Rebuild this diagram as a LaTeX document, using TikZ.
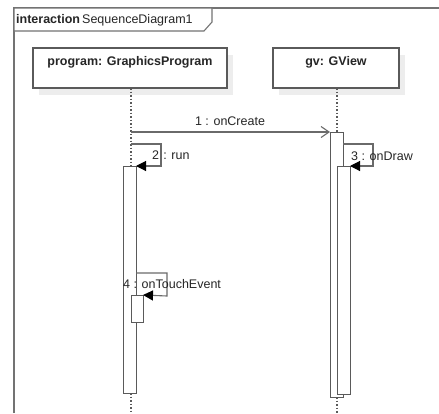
\documentclass[tikz,border=0pt]{standalone}
\usepackage{fontspec}
\setmainfont{Liberation Sans}
\usetikzlibrary{arrows.meta}
\definecolor{lineg}{HTML}{5A5A5A}
\definecolor{msgg}{HTML}{6A6A6A}
\definecolor{shadowg}{HTML}{EDEDED}
\begin{document}
\begin{tikzpicture}[x=1pt,y=-1pt,
  lifebox/.style={draw=lineg,line width=1.1pt,fill=white,inner sep=0pt,outer sep=0pt,anchor=north west},
  shadowbox/.style={fill=shadowg,draw=none,inner sep=0pt,outer sep=0pt,anchor=north west},
  actbox/.style={draw=lineg,line width=1pt,fill=white,inner sep=0pt,outer sep=0pt,anchor=north west,minimum width=13pt},
  lifeline/.style={draw=lineg,line width=1.2pt,dash pattern=on 1.5pt off 2pt},
  msg/.style={draw=msgg,line width=1.1pt},
  callarrow/.style={msg,-{Triangle[length=10pt,width=10pt,color=black]}},
  openarrow/.style={msg,-{Straight Barb[length=8pt,width=11pt,line width=1.1pt]}},
  lbl/.style={font=\fontsize{12.5}{14}\selectfont,text=black!85,inner sep=0pt},
  hdr/.style={font=\fontsize{12.5}{14}\selectfont\bfseries,text=black!85,inner sep=0pt}
]
\useasboundingbox[fill=white] (0,0) rectangle (439,413);

% frame
\draw[draw=lineg!85,line width=1.1pt] (14,413) -- (14,8) -- (439,8);
\draw[draw=lineg!85,line width=1.1pt,fill=white] (14,8) -- (212,8) -- (212,22) -- (204,31) -- (14,31) -- cycle;
\node[lbl,anchor=west] (title) at (16,20) {\textbf{interaction}\,SequenceDiagram1};

% lifeline heads
\node[shadowbox,minimum width=194pt,minimum height=40pt] (ps) at (39,55) {};
\node[lifebox,minimum width=194pt,minimum height=40pt] (pbox) at (33,48) {};
\node[hdr] (ptext) at (130,62) {program: GraphicsProgram};
\node[shadowbox,minimum width=126pt,minimum height=40pt] (gs) at (279,55) {};
\node[lifebox,minimum width=126pt,minimum height=40pt] (gbox) at (273,48) {};
\node[hdr] (gtext) at (336,62) {gv: GView};

% lifelines
\coordinate (pl1) at (131,88);
\coordinate (pl2) at (131,166);
\coordinate (pl3) at (131,393);
\coordinate (pl4) at (131,413);
\coordinate (gl1) at (337,88);
\coordinate (gl2) at (337,132);
\coordinate (gl3) at (337,397);
\coordinate (gl4) at (337,413);
\draw[lifeline] (pl1) -- (pl2);
\draw[lifeline] (pl3) -- (pl4);
\draw[lifeline] (gl1) -- (gl2);
\draw[lifeline] (gl3) -- (gl4);

% activations
\node[actbox,minimum height=227pt] (pa) at (123,166) {};
\node[actbox,minimum height=265pt] (ga) at (330,132) {};
\node[actbox,minimum height=228pt] (gb) at (337,166) {};

% message 1
\coordinate (m1s) at (131,132);
\draw[openarrow] (m1s) -- (ga.north west);
\node[lbl] (l1) at (230,121) {1 : onCreate};

% message 2
\coordinate (m2s) at (131,144);
\coordinate (m2a) at (161,144);
\coordinate (m2b) at (161,166);
\draw[callarrow] (m2s) -- (m2a) -- (m2b) -- (pa.north east);
\node[lbl,anchor=west] (l2) at (152,155) {2\,\,: run};

% message 3
\coordinate (m3s) at (343,144);
\coordinate (m3a) at (373,144);
\coordinate (m3b) at (373,166);
\draw[callarrow] (m3s) -- (m3a) -- (m3b) -- (gb.north east);
\node[lbl,anchor=west] (l3) at (351,156) {3 : onDraw};

% message 4
\node[actbox,minimum width=12pt,minimum height=27pt] (pc) at (131,295) {};
\coordinate (m4s) at (136,273);
\coordinate (m4a) at (167,273);
\coordinate (m4b) at (167,296);
\draw[callarrow] (m4s) -- (m4a) -- (m4b) -- (pc.north east);
\node[lbl,anchor=west] (l4) at (123,284) {4 : onTouchEvent};
\end{tikzpicture}
\end{document}
